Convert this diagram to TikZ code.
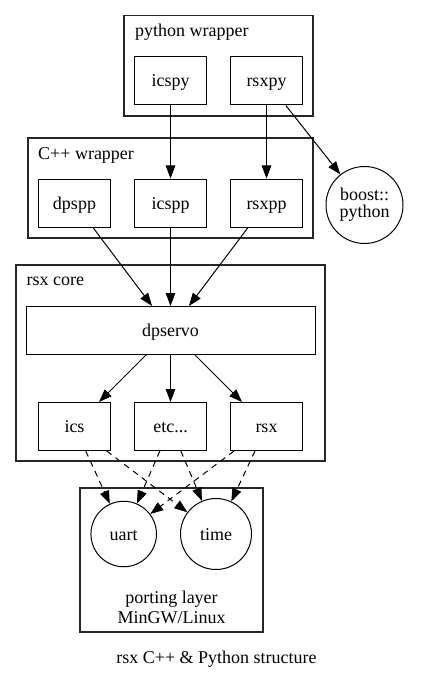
\documentclass[tikz,border=0pt]{standalone}
\usepackage{fontspec}
\setmainfont{Liberation Serif}
\usepackage{tikz}
\usetikzlibrary{arrows.meta}

\newcommand{\graphfont}{\fontsize{18}{18}\selectfont}

\begin{document}
\begin{tikzpicture}[
    x=1pt, y=-1pt,
    >={Triangle[length=13pt, width=9.5pt]},
    module/.style={
        rectangle,
        draw=black,
        line width=1pt,
        minimum width=72pt,
        minimum height=48pt,
        inner sep=0pt,
        font=\graphfont,
        text height=16pt,
        text depth=4pt
    },
    extlib/.style={
        circle,
        draw=black,
        line width=1pt,
        inner sep=0pt,
        align=center,
        font=\fontsize{18}{17}\selectfont
    },
    cluster/.style={
        rectangle,
        draw=black!85,
        line width=1.3pt,
        inner sep=0pt
    },
    clabel/.style={
        anchor=base west,
        inner sep=0pt,
        font=\graphfont
    },
    link/.style={
        ->,
        line width=1pt
    },
    port/.style={
        ->,
        line width=1pt,
        dash pattern=on 6pt off 5pt
    }
]

\useasboundingbox (0,0) rectangle (433,679);

% =============== CLUSTERS ===============

\node[cluster, minimum width=189pt, minimum height=100.5pt] (pywrap)  at (218.5, 65.75) {};
\node[cluster, minimum width=285pt, minimum height=100pt]   (cppwrap) at (170.5, 188) {};
\node[cluster, minimum width=309pt, minimum height=196pt]   (core)    at (170.5, 363) {};
\node[cluster, minimum width=183pt, minimum height=144pt]   (porting) at (171.5, 560) {};

\node[clabel] (pywrap_lbl)  at (135, 36.5)  {python wrapper};
\node[clabel] (cppwrap_lbl) at (38, 160)    {C++ wrapper};
\node[clabel] (core_lbl)    at (26.5, 285.5) {rsx core};
\node[inner sep=0pt, align=center, font=\fontsize{18}{19.7}\selectfont] (porting_lbl)
    at (171.5, 607.5) {porting layer\\MinGW/Linux};

% =============== MODULES ===============

% python wrapper
\node[module] (icspy) at (170.5, 81) {icspy};
\node[module] (rsxpy) at (266.5, 81) {rsxpy};

% C++ wrapper
\node[module] (dpspp) at (74.5, 203)  {dpspp};
\node[module] (icspp) at (170.5, 203) {icspp};
\node[module] (rsxpp) at (266.5, 203) {rsxpp};

% boost
\node[extlib, minimum size=77pt] (boost) at (364.5, 205) {boost::\\python};

% rsx core
\node[module, minimum width=289pt] (dpservo) at (170.5, 330.5) {dpservo};
\node[module] (ics) at (74.5, 426.5)  {ics};
\node[module] (etc) at (170.5, 426.5) {etc...};
\node[module] (rsx) at (266.5, 426.5) {rsx};

% porting layer
\node[extlib, minimum size=65.5pt, font=\graphfont, text height=16pt, text depth=4pt] (uart) at (123.7, 534) {uart};
\node[extlib, minimum size=71pt, font=\graphfont, text height=16pt, text depth=4pt]   (time) at (216, 534)   {time};

% =============== LIGAÇÕES ===============

\draw[link] (icspy) -- (icspp);
\draw[link] (rsxpy) -- (rsxpp);
\draw[link] (rsxpy) -- (boost);

\draw[link] (dpspp) -- (dpservo);
\draw[link] (icspp) -- (dpservo);
\draw[link] (rsxpp) -- (dpservo);

\draw[link] (dpservo) -- (ics);
\draw[link] (dpservo) -- (etc);
\draw[link] (dpservo) -- (rsx);

\draw[port] (ics) -- (uart);
\draw[port] (ics) -- (time);
\draw[port] (etc) -- (uart);
\draw[port] (etc) -- (time);
\draw[port] (rsx) -- (uart);
\draw[port] (rsx) -- (time);

% =============== LEGENDA ===============

\node[anchor=base, inner sep=0pt, font=\graphfont] (caption) at (216.5, 663) {rsx C++ \& Python structure};

\end{tikzpicture}
\end{document}
